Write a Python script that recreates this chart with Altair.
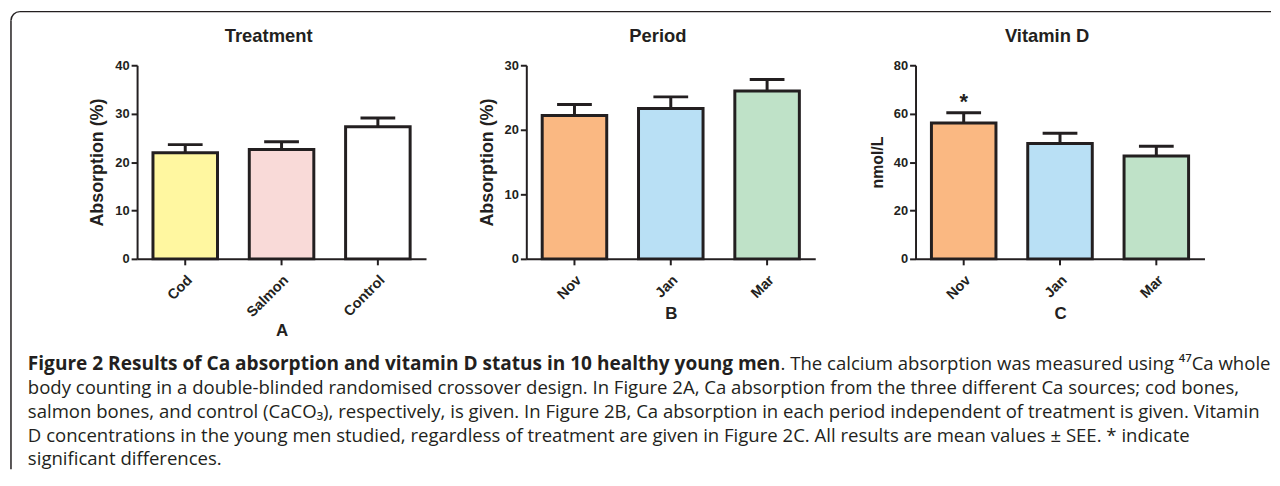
import altair as alt
import pandas as pd

INK = "#231f20"
FONT = "Liberation Sans"
CAP_FONT = "Open Sans"
CAP_SIZE = 18.7

# ---- data ----
A_cats = ["Cod", "Salmon", "Control"]
A_mean = [21.9, 22.6, 27.3]
A_se = [1.7, 1.6, 1.8]
A_colors = ["#fff7a0", "#f9dad8", "#ffffff"]

B_cats = ["Nov", "Jan", "Mar"]
B_mean = [22.2, 23.3, 26.0]
B_se = [1.7, 1.8, 1.8]

C_cats = ["Nov", "Jan", "Mar"]
C_mean = [56.1, 47.7, 42.5]
C_se = [4.3, 4.2, 4.0]
C_stars = ["*", "", ""]

month_colors = ["#fab882", "#b9e0f5", "#bfe2c8"]

titles = ["Treatment", "Period", "Vitamin D"]
letters = ["A", "B", "C"]
y_titles = ["Absorption (%)", "Absorption (%)", "nmol/L"]
y_title_sizes = [18, 18, 16]
y_max = [40, 30, 80]
y_step = [10, 10, 20]

cap_bold = "Figure 2 Results of Ca absorption and vitamin D status in 10 healthy young men"
cap_first_rest = ". The calcium absorption was measured using \u2074\u2077Ca whole"
cap_lines = [
    "body counting in a double-blinded randomised crossover design. In Figure 2A, Ca absorption from the three different Ca sources; cod bones,",
    "salmon bones, and control (CaCO\u2083), respectively, is given. In Figure 2B, Ca absorption in each period independent of treatment is given. Vitamin",
    "D concentrations in the young men studied, regardless of treatment are given in Figure 2C. All results are mean values \u00b1 SEE. * indicate",
    "significant differences.",
]


def panel(i, cats, means, ses, colors, stars):
    df = pd.DataFrame({
        "cat": cats,
        "mean": means,
        "top": [m + s for m, s in zip(means, ses)],
        "star": stars,
        "color": colors,
    })
    x = alt.X(
        "cat:N", sort=cats,
        scale=alt.Scale(paddingInner=0.33, paddingOuter=0.165),
        axis=alt.Axis(title=letters[i], labelAngle=-45, labelFontSize=14.5,
                      labelPadding=8, titleFontSize=17, titlePadding=4, grid=False),
    )
    y = alt.Y(
        "mean:Q",
        scale=alt.Scale(domain=[0, y_max[i]], nice=False),
        axis=alt.Axis(values=list(range(0, y_max[i] + 1, y_step[i])),
                      title=y_titles[i], labelFontSize=13,
                      titleFontSize=y_title_sizes[i],
                      titlePadding=8, labelPadding=2, grid=False),
    )
    base = alt.Chart(df)
    bars = base.mark_bar(stroke=INK, strokeWidth=3).encode(
        x=x, y=y, fill=alt.Fill("color:N", scale=None),
    )
    err = base.mark_rule(color=INK, strokeWidth=3).encode(x=x, y="mean:Q", y2="top:Q")
    cap = base.mark_tick(color=INK, thickness=3, size=35, opacity=1).encode(x=x, y="top:Q")
    star = base.mark_text(font=FONT, fontWeight="bold", fontSize=22, dy=-4,
                          baseline="alphabetic", color=INK).encode(
        x=x, y="top:Q", text="star:N")
    ttl = alt.Chart(pd.DataFrame({"t": [titles[i]]})).mark_text(
        font=FONT, fontSize=18.5, fontWeight="bold", color=INK,
        align="center", baseline="middle").encode(
        x=alt.value(132.5), y=alt.value(-29), text="t:N")
    return [bars, err, cap, star, ttl]


# ---- caption and frame (drawn in panel A's coordinate frame) ----
one = pd.DataFrame({"t": [cap_bold], "r": [cap_first_rest],
                    "rest": ["\n".join(cap_lines)]})
cbase = alt.Chart(one)
bold_txt = cbase.mark_text(align="left", baseline="alphabetic", font=CAP_FONT,
                           fontSize=19.2, fontWeight="bold", color=INK).encode(
    x=alt.value(-110), y=alt.value(307), text="t:N")
first_rest = cbase.mark_text(align="left", baseline="alphabetic", font=CAP_FONT,
                             fontSize=CAP_SIZE, color=INK).encode(
    x=alt.value(648), y=alt.value(307), text="r:N")
rest_txt = cbase.mark_text(align="left", baseline="alphabetic", font=CAP_FONT,
                           fontSize=CAP_SIZE, color=INK, lineBreak="\n",
                           lineHeight=24).encode(
    x=alt.value(-110), y=alt.value(331), text="rest:N")

top_rule = cbase.mark_rule(color=INK, strokeWidth=1.5).encode(
    x=alt.value(-118), x2=alt.value(1142), y=alt.value(-54))
left_rule = cbase.mark_rule(color=INK, strokeWidth=1.5).encode(
    x=alt.value(-127), y=alt.value(-45), y2=alt.value(407))
corner = cbase.mark_arc(theta=4.7124, theta2=6.2832, radius=9.75, radius2=8.25).encode(
    x=alt.value(-118), y=alt.value(-45), color=alt.value(INK))

pA = alt.layer(*panel(0, A_cats, A_mean, A_se, A_colors, ["", "", ""]),
               top_rule, left_rule, corner, bold_txt, first_rest, rest_txt).properties(
    width=291, height=195)
pB = alt.layer(*panel(1, B_cats, B_mean, B_se, month_colors, ["", "", ""])).properties(
    width=291, height=195)
pC = alt.layer(*panel(2, C_cats, C_mean, C_se, month_colors, C_stars)).properties(
    width=291, height=195)

chart = alt.hconcat(pA, pB, pC, spacing=101, bounds="flush").properties(
    padding={"left": 2, "top": 1, "right": 0, "bottom": 0},
    background="white",
).configure_view(strokeWidth=0).configure_axis(
    domainColor=INK, domainWidth=2, tickColor=INK, tickWidth=2, tickSize=6,
    labelColor=INK, titleColor=INK, labelFont=FONT, titleFont=FONT,
    labelFontWeight="bold", titleFontWeight="bold", grid=False,
)

chart.save("out.html", embed_options={"renderer": "svg", "actions": False})
